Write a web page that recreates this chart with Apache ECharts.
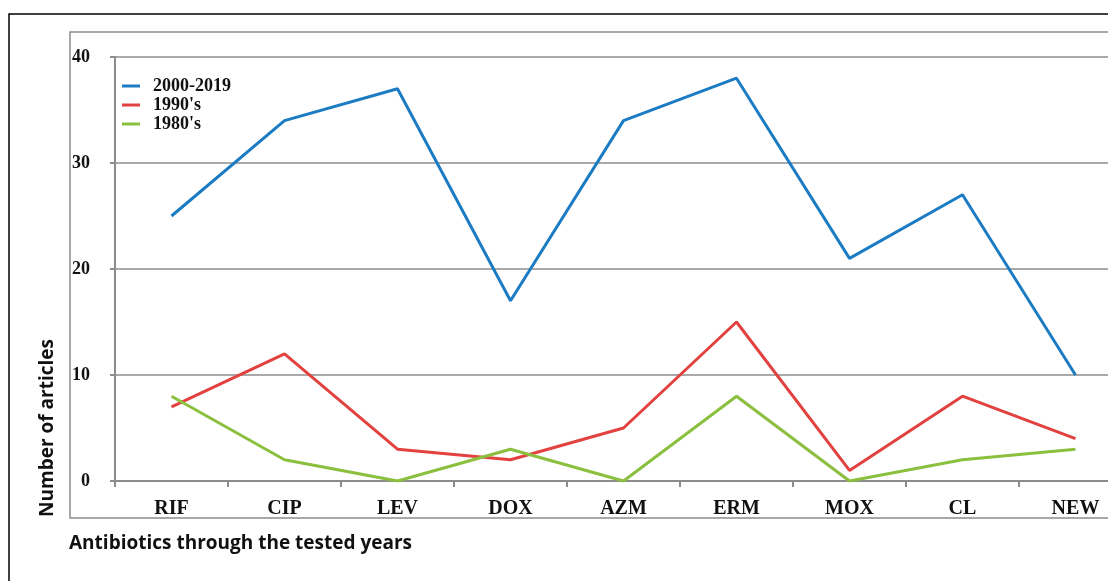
<!DOCTYPE html>
<html>
<head>
<meta charset="utf-8">
<script src="https://cdn.jsdelivr.net/npm/echarts@6/dist/echarts.min.js"></script>
<style>html,body{margin:0;padding:0;background:#fff;overflow:hidden;}#c{width:1140px;height:581px;}</style>
</head>
<body>
<div id="c"></div>
<script>
const categories = ['RIF','CIP','LEV','DOX','AZM','ERM','MOX','CL','NEW'];
const s2000 = [25,34,37,17,34,38,21,27,10];
const s1990 = [7,12,3,2,5,15,1,8,4];
const s1980 = [8,2,0,3,0,8,0,2,3];
const seriesNames = ['2000-2019',"1990's","1980's"];
const colors = ['#1b7cc3','#e2423f','#8bbf3e'];

const chart = echarts.init(document.getElementById('c'), null, {renderer:'canvas'});
const serif = '"Liberation Serif","Times New Roman",serif';
chart.setOption({
  animation:false,
  backgroundColor:'#fff',
  color: colors,
  grid:{left:115, right:8, top:57, bottom:100, containLabel:false},
  legend:{
    orient:'vertical', left:122, top:77, itemGap:1, padding:0,
    icon:'rect', itemWidth:18, itemHeight:3,
    textStyle:{fontFamily:serif, fontWeight:'bold', fontSize:18, color:'#111', padding:[0,0,0,8]},
    data: seriesNames
  },
  xAxis:{
    type:'category', data:categories, boundaryGap:true,
    axisLine:{lineStyle:{color:'#8c8c8c', width:2}},
    axisTick:{show:true, length:6, lineStyle:{color:'#8c8c8c', width:2}},
    axisLabel:{fontFamily:serif, fontWeight:'bold', fontSize:20, color:'#111', margin:18}
  },
  yAxis:{
    type:'value', min:0, max:40, interval:10,
    axisLine:{show:true, lineStyle:{color:'#8c8c8c', width:2}},
    axisTick:{show:true, length:5, lineStyle:{color:'#8c8c8c', width:2}},
    splitLine:{lineStyle:{color:'#8c8c8c', width:1.5}},
    axisLabel:{fontFamily:serif, fontWeight:'bold', fontSize:18, color:'#111', margin:25}
  },
  series:[
    {name:seriesNames[0], type:'line', data:s2000, symbol:'none', lineStyle:{width:3}},
    {name:seriesNames[1], type:'line', data:s1990, symbol:'none', lineStyle:{width:3}},
    {name:seriesNames[2], type:'line', data:s1980, symbol:'none', lineStyle:{width:3}}
  ],
  graphic:[
    {type:'polyline', shape:{points:[[9,600],[9,14],[1150,14]]}, style:{stroke:'#000', lineWidth:1.5, fill:null}, silent:true},
    {type:'polyline', shape:{points:[[1150,32],[70,32],[70,518],[1150,518]]}, style:{stroke:'#8c8c8c', lineWidth:1.5, fill:null}, silent:true},
    {type:'text', left:69, top:534, style:{text:'Antibiotics through the tested years', font:'bold 19px "Open Sans", sans-serif', fill:'#111'}},
    {type:'text', x:48, y:428, rotation:Math.PI/2, style:{text:'Number of articles', font:'bold 19px "Open Sans", sans-serif', fill:'#111', textAlign:'center', textVerticalAlign:'middle'}}
  ]
});
</script>
</body>
</html>
